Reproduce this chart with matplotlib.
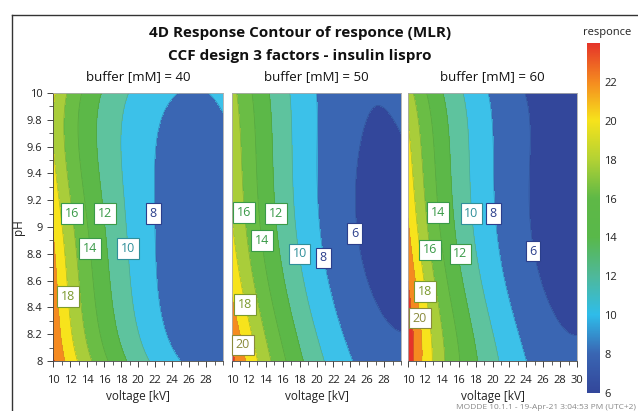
import numpy as np
import matplotlib
matplotlib.use("Agg")
import matplotlib.pyplot as plt
from matplotlib.colors import LinearSegmentedColormap
from matplotlib.lines import Line2D

plt.rcParams['font.family'] = ['Open Sans', 'DejaVu Sans']

# contour crossings: (voltage kV, pH, response) per buffer level
buffers = [40, 50, 60]
obs_40 = [(11.6,8,20),(12.8,8,18),(14.35,8,16),(16.5,8,14),(18.8,8,12),(21.4,8,10),(24.9,8,8),
          (10.4,10,18),(11.4,10,16),(13.5,10,14),(15.7,10,12),(18.9,10,10),
          (12.2,9.1,16),(16.1,9.1,12),(14.35,8.84,14),(18.8,8.84,10),(11.8,8.48,18),(21.8,9.1,8),
          (22.8,9.8,8),(30,9.87,8),(24.1,10,8),(27.3,10,8)]
obs_50 = [(11.4,9.11,16),(15.2,9.1,12),(13.6,8.9,14),(18.0,8.8,10),(20.8,8.77,8),(24.5,8.95,6),(11.5,8.42,18),(11.3,8.12,20),
          (10.55,10,16),(12.3,10,14),(14.5,10,12),(16.8,10,10),(20.0,10,8),
          (27.4,9.81,6),(24.6,9.6,6),(30,9.72,6),(25.1,9.27,6),(30,8.23,6),
          (10.3,8,22),(11.7,8,20),(12.9,8,18),(14.5,8,16),(16.4,8,14),(18.4,8,12),(21.2,8,10),(24.1,8,8)]
obs_60 = [(13.6,9.11,14),(17.5,9.1,10),(20.1,9.1,8),(12.6,8.83,16),(16.2,8.8,12),(24.8,8.82,6),(12.0,8.52,18),(11.4,8.32,20),
          (10.6,10,16),(12.2,10,14),(14.2,10,12),(16.6,10,10),(19.3,10,8),(24.0,10,6),
          (30,8.2,6),(24.5,9.27,6),
          (10.8,8,22),(11.6,8,20),(12.6,8,18),(14.3,8,16),(16.3,8,14),(18.3,8,12),(20.7,8,10),(24.0,8,8)]
# rough interior estimates (corners / minima), given lower weight
est_40 = [(10,8,21.5),(10,10,18.6),(28,9.3,7.0),(30,8,7.2)]
est_50 = [(10,8,23),(10,10,17),(28.5,9.1,5.4),(30,10,6.4),(30,8,6.3)]
est_60 = [(10,8,23.8),(10,10,17),(29,9,5.2),(30,10,5.4),(30,8,6.3)]
observations = [obs_40, obs_50, obs_60]
estimates = [est_40, est_50, est_60]

# contour labels shown in each panel: (level, voltage, pH)
labels_40 = [(16,12.2,9.1),(12,16.1,9.1),(8,21.8,9.1),(14,14.35,8.84),(10,18.8,8.84),(18,11.8,8.48)]
labels_50 = [(16,11.4,9.11),(12,15.2,9.1),(14,13.6,8.9),(10,18.0,8.8),(8,20.8,8.77),(6,24.5,8.95),(18,11.5,8.42),(20,11.3,8.12)]
labels_60 = [(14,13.6,9.11),(10,17.5,9.1),(8,20.1,9.1),(16,12.6,8.83),(12,16.2,8.8),(6,24.8,8.82),(18,12.0,8.52),(20,11.4,8.32)]
panel_labels = [labels_40, labels_50, labels_60]

levels = [0, 6, 8, 10, 12, 14, 16, 18, 20, 22, 40]
band_colors = ['#33479b', '#3a66b3', '#3cc1e9', '#5ec39e', '#5cb848', '#6abd45',
               '#a9cd3a', '#f7e31c', '#f58a20', '#e5332a']
cbar_ticks = [6, 8, 10, 12, 14, 16, 18, 20, 22]
label_colors = {6: '#2b3f8c', 8: '#2b3f8c', 10: '#2f8f9a', 12: '#3a9a48', 14: '#3a9a48',
                16: '#3a9a48', 18: '#7b9a2e', 20: '#8a8a3a'}


def terms(v, p):
    x1 = (np.asarray(v, float) - 20) / 10
    x2 = np.asarray(p, float) - 9
    cols = [x1 ** a * x2 ** b for a in range(5) for b in range(5) if a + b <= 4]
    return np.stack(cols, axis=-1)


def fit(obs, est):
    ob = np.array(obs, float)
    es = np.array(est, float)
    A = np.vstack([terms(ob[:, 0], ob[:, 1]), 0.3 * terms(es[:, 0], es[:, 1])])
    rhs = np.concatenate([np.log(ob[:, 2]), 0.3 * np.log(es[:, 2])])
    c, *_ = np.linalg.lstsq(A, rhs, rcond=None)
    return c


W, H = 638, 411
fig = plt.figure(figsize=(W / 100, H / 100), dpi=100)


def ax_px(l, t, r, b):
    return fig.add_axes([l / W, (H - b) / H, (r - l) / W, (b - t) / H])


# outer frame
fig.add_artist(Line2D([12 / W, 1], [1 - 15 / H, 1 - 15 / H], color='#333333', lw=1.0))
fig.add_artist(Line2D([12 / W, 12 / W], [0, 1 - 15 / H], color='#333333', lw=1.0))

fig.text(300 / W, 1 - 33 / H, "4D Response Contour of responce (MLR)", ha='center', va='center',
         fontsize=11, fontweight='bold', color='#111111')
fig.text(300 / W, 1 - 56 / H, "CCF design 3 factors - insulin lispro", ha='center', va='center',
         fontsize=11, fontweight='bold', color='#111111')

panels = [(53, 93, 223, 361), (232, 93, 401, 361), (408, 93, 577, 361)]
v = np.linspace(10, 30, 400)
p = np.linspace(8, 10, 400)
VV, PP = np.meshgrid(v, p)
for i, (buf, box) in enumerate(zip(buffers, panels)):
    coef = fit(observations[i], estimates[i])
    ax = ax_px(*box)
    Z = np.exp(terms(VV, PP) @ coef)
    ax.contourf(VV, PP, Z, levels=levels, colors=band_colors)
    ax.contour(VV, PP, Z, levels=levels[1:-1],
               colors=['#2a3a7a'] * 2 + ['#2a8aa0'] + ['#3a8a3a'] * 4 + ['#b0a020'] * 2,
               linewidths=0.5, alpha=0.45)
    ax.set_xlim(10, 30)
    ax.set_ylim(8, 10)
    ax.set_title(f"buffer [mM] = {buf}", fontsize=9.5, pad=9, color='#111111')
    ax.set_xlabel("voltage [kV]", fontsize=8.5, labelpad=3, color='#222222')
    ax.set_xticks(np.arange(10, 31 if i == 2 else 29, 2))
    ax.set_xticks(np.arange(10, 31, 1), minor=True)
    ax.tick_params(axis='x', which='major', labelsize=8, length=4, width=0.7, pad=6, colors='#444444',
                   labelcolor='#222222')
    ax.tick_params(axis='x', which='minor', length=3, width=0.6, colors='#444444')
    for s in ax.spines.values():
        s.set_color('#aaaaaa')
        s.set_linewidth(0.6)
    if i == 0:
        yt = np.round(np.arange(8, 10.01, 0.2), 1)
        ax.set_yticks(yt)
        ax.set_yticklabels([f"{t:g}" for t in yt])
        ax.set_yticks(np.round(np.arange(8, 10.01, 0.1), 1), minor=True)
        ax.tick_params(axis='y', which='major', labelsize=8, length=4, width=0.7, colors='#444444',
                       labelcolor='#222222')
        ax.tick_params(axis='y', which='minor', length=3, width=0.6, colors='#444444')
        ax.set_ylabel("pH", fontsize=8.5, color='#222222')
        ax.yaxis.set_label_coords(-0.165, 0.5)
        ax.spines['left'].set_color('#444444')
    else:
        ax.set_yticks([])
    ax.spines['bottom'].set_color('#444444')
    for lev, lv, lp in panel_labels[i]:
        c = label_colors[lev]
        ax.text(lv, lp, f"{lev}", ha='center', va='center', fontsize=9, color=c,
                bbox=dict(boxstyle='square,pad=0.3', fc='white', ec=c, lw=0.8))

# colour bar
cmap = LinearSegmentedColormap.from_list(
    'resp', [(0.0, '#33479b'), (2 / 18, '#3a66b3'), (4 / 18, '#2fbdea'), (6 / 18, '#4fb99a'),
             (8 / 18, '#59b84a'), (10 / 18, '#5fb947'), (12 / 18, '#b4d234'), (14 / 18, '#f7e31c'),
             (16 / 18, '#f58a20'), (1.0, '#e5332a')])
cax = ax_px(587, 43, 600, 393)
grad = np.linspace(6, 24, 256).reshape(-1, 1)
cax.imshow(grad, aspect='auto', origin='lower', extent=[0, 1, 6, 24], cmap=cmap)
cax.set_xlim(0, 1)
cax.set_ylim(6, 24)
cax.set_xticks([])
cax.yaxis.tick_right()
cax.set_yticks(cbar_ticks)
cax.tick_params(axis='y', labelsize=8, length=0, pad=3, labelcolor='#222222')
for s in cax.spines.values():
    s.set_visible(False)
fig.text(607 / W, 1 - 33 / H, "responce", ha='center', va='center', fontsize=8, color='#222222')

fig.text(636 / W, 1 - 407 / H, "MODDE 10.1.1 - 19-Apr-21 3:04:53 PM (UTC+2)", ha='right', va='center',
         fontsize=6, color='#888888')

fig.savefig("out.png", dpi=100)
